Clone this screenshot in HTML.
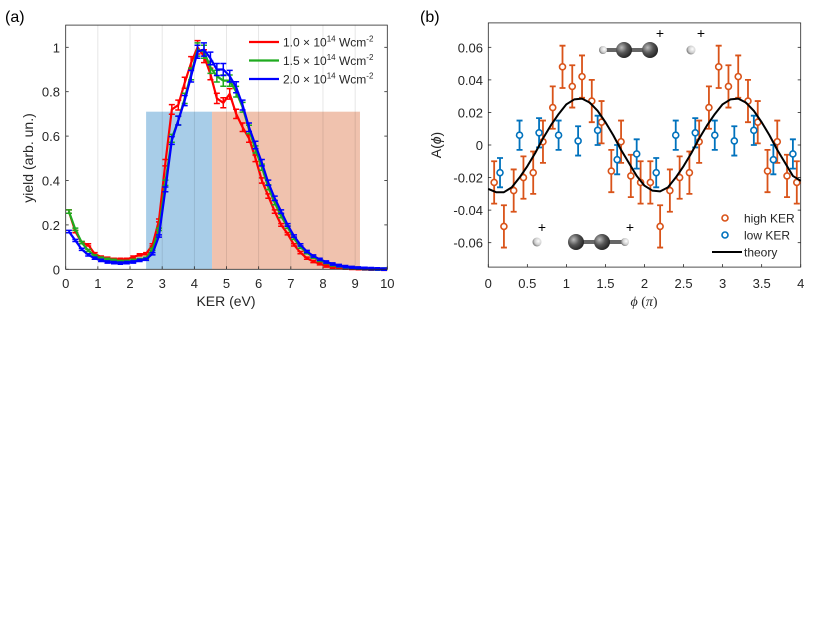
<!DOCTYPE html>
<html><head><meta charset="utf-8"><style>
body{margin:0;background:#fff;}
svg{display:block;font-family:"Liberation Sans",sans-serif;}
</style></head><body>
<svg id="fig" width="830" height="623" viewBox="0 0 830 623">
<defs>
<radialGradient id="gC" cx="35%" cy="35%" r="70%"><stop offset="0" stop-color="#bbb"/><stop offset="0.5" stop-color="#555"/><stop offset="1" stop-color="#222"/></radialGradient>
<radialGradient id="gH" cx="65%" cy="40%" r="70%"><stop offset="0" stop-color="#fff"/><stop offset="0.6" stop-color="#ccc"/><stop offset="1" stop-color="#666"/></radialGradient>
</defs>
<g id="pa"></g>
<g id="pb"></g>
</svg>
<script>
const kerX=[0.1,0.3,0.5,0.7,0.9,1.1,1.3,1.5,1.7,1.9,2.1,2.3,2.5,2.7,2.9,3.1,3.3,3.5,3.7,3.9,4.1,4.3,4.5,4.7,4.9,5.1,5.3,5.5,5.7,5.9,6.1,6.3,6.5,6.7,6.9,7.1,7.3,7.5,7.7,7.9,8.1,8.3,8.5,8.7,8.9,9.1,9.3,9.5,9.7,9.9];
const yieldRed=[0.26,0.17,0.12,0.11,0.07,0.055,0.05,0.045,0.045,0.045,0.055,0.065,0.07,0.11,0.22,0.48,0.72,0.74,0.84,0.93,1.0,0.96,0.88,0.77,0.75,0.79,0.7,0.64,0.59,0.5,0.4,0.33,0.26,0.2,0.16,0.11,0.075,0.05,0.035,0.025,0.015,0.01,0.008,0.006,0.004,0.003,0.002,0.001,0.001,0];
const yieldGreen=[0.26,0.18,0.12,0.085,0.06,0.05,0.045,0.04,0.035,0.035,0.04,0.045,0.05,0.09,0.18,0.39,0.59,0.67,0.77,0.88,0.99,0.98,0.91,0.87,0.85,0.85,0.8,0.73,0.63,0.54,0.46,0.37,0.3,0.24,0.19,0.14,0.1,0.075,0.055,0.04,0.03,0.02,0.015,0.01,0.007,0.005,0.003,0.002,0.001,0.001];
const yieldBlue=[0.17,0.13,0.09,0.065,0.05,0.04,0.033,0.03,0.028,0.03,0.033,0.04,0.045,0.07,0.15,0.36,0.58,0.67,0.76,0.87,0.98,0.99,0.95,0.9,0.9,0.87,0.82,0.74,0.64,0.56,0.48,0.39,0.32,0.26,0.2,0.15,0.11,0.08,0.06,0.045,0.033,0.024,0.017,0.012,0.008,0.006,0.004,0.003,0.002,0.001];
const aXTicks=[0,1,2,3,4,5,6,7,8,9,10];
const aYTicks=[0,0.2,0.4,0.6,0.8,1];
const aYLabels=["0","0.2","0.4","0.6","0.8","1"];
const legendA=["1.0","1.5","2.0"];
const lowRegion=[2.5,4.55,0.71];
const highRegion=[4.55,9.15,0.71];

const highX=[0.075,0.2,0.325,0.45,0.575,0.7,0.825,0.95,1.075,1.2,1.325,1.45,1.575,1.7,1.825,1.95,2.075,2.2,2.325,2.45,2.575,2.7,2.825,2.95,3.075,3.2,3.325,3.45,3.575,3.7,3.825,3.95];
const highY=[-0.023,-0.05,-0.028,-0.02,-0.017,0.002,0.023,0.048,0.036,0.042,0.027,0.014,-0.016,0.002,-0.019,-0.023,-0.023,-0.05,-0.028,-0.02,-0.017,0.002,0.023,0.048,0.036,0.042,0.027,0.014,-0.016,0.002,-0.019,-0.023];
const highErr=0.013;
const lowX=[0.15,0.4,0.65,0.9,1.15,1.4,1.65,1.9,2.15,2.4,2.65,2.9,3.15,3.4,3.65,3.9];
const lowY=[-0.017,0.006,0.0075,0.006,0.0025,0.009,-0.009,-0.0055,-0.017,0.006,0.0075,0.006,0.0025,0.009,-0.009,-0.0055];
const lowErr=0.009;
const theoryX=[0,0.1,0.2,0.3,0.4,0.5,0.6,0.7,0.8,0.9,1.0,1.1,1.2,1.3,1.4,1.5,1.6,1.7,1.8,1.9,2.0,2.1,2.2,2.3,2.4,2.5,2.6,2.7,2.8,2.9,3.0,3.1,3.2,3.3,3.4,3.5,3.6,3.7,3.8,3.9,4.0];
const theoryY=[-0.027,-0.029,-0.029,-0.026,-0.02,-0.013,-0.005,0.004,0.012,0.019,0.025,0.028,0.0285,0.026,0.021,0.014,0.006,-0.003,-0.011,-0.019,-0.025,-0.028,-0.0285,-0.026,-0.02,-0.013,-0.005,0.004,0.012,0.019,0.025,0.028,0.0285,0.026,0.021,0.014,0.006,-0.003,-0.011,-0.019,-0.022];
const bXTicks=[0,0.5,1,1.5,2,2.5,3,3.5,4];
const bYTicks=[-0.06,-0.04,-0.02,0,0.02,0.04,0.06];
const bYLabels=["-0.06","-0.04","-0.02","0","0.02","0.04","0.06"];

const NS="http://www.w3.org/2000/svg";
function mk(p,t,a,txt){const e=document.createElementNS(NS,t);for(const k in a)e.setAttribute(k,a[k]);if(txt!==undefined)e.textContent=txt;p.appendChild(e);return e;}

// Panel A
const pa=document.getElementById('pa');
const ax=v=>65.7+v*(387.3-65.7)/10, ay=v=>269.3-v*222;
let t;
t=mk(pa,'text',{x:5,y:22,'font-size':16},'(a)');


let r=mk(pa,'rect',{x:ax(lowRegion[0]),y:ay(lowRegion[2]),width:ax(lowRegion[1])-ax(lowRegion[0]),height:ay(0)-ay(lowRegion[2]),fill:'#a8cde8'});


r=mk(pa,'rect',{x:ax(highRegion[0]),y:ay(highRegion[2]),width:ax(highRegion[1])-ax(highRegion[0]),height:ay(0)-ay(highRegion[2]),fill:'#f0c2ae'});


aXTicks.forEach((v,i)=>{
 if(v>0&&v<10){const g=mk(pa,'line',{x1:ax(v),x2:ax(v),y1:ay(1.1),y2:ay(0),stroke:'#000','stroke-opacity':0.12,'stroke-width':0.8});
 
 }
 const l=mk(pa,'text',{x:ax(v),y:288,'font-size':13,'text-anchor':'middle',fill:'#262626'},String(v));
 
 
 mk(pa,'line',{x1:ax(v),x2:ax(v),y1:ay(0),y2:ay(0)-3,stroke:'#262626','stroke-width':0.8});
});
aYTicks.forEach((v,i)=>{
 const l=mk(pa,'text',{x:60,y:ay(v)+5,'font-size':13,'text-anchor':'end',fill:'#262626'},aYLabels[i]);
 
 
 mk(pa,'line',{x1:ax(0),x2:ax(0)+3,y1:ay(v),y2:ay(v),stroke:'#262626','stroke-width':0.8});
 mk(pa,'line',{x1:ax(10),x2:ax(10)-3,y1:ay(v),y2:ay(v),stroke:'#262626','stroke-width':0.8});
});
function series(vals,col,name){
 const g=mk(pa,'g',{});
 
 
 mk(g,'polyline',{points:kerX.map((x,i)=>ax(x)+','+ay(vals[i])).join(' '),fill:'none',stroke:col,'stroke-width':2.2});
 kerX.forEach((x,i)=>{const e=Math.max(0.005,vals[i]*0.03);
  mk(g,'path',{d:`M${ax(x)},${ay(vals[i]-e)}V${ay(vals[i]+e)}M${ax(x)-3},${ay(vals[i]-e)}h6M${ax(x)-3},${ay(vals[i]+e)}h6`,stroke:col,'stroke-width':1.5,fill:'none'});});
}
series(yieldRed,'#ff0000','series-1e14');
series(yieldGreen,'#1faa1f','series-1.5e14');
series(yieldBlue,'#0000ff','series-2e14');
mk(pa,'rect',{x:ax(0),y:ay(1.1),width:ax(10)-ax(0),height:ay(0)-ay(1.1),fill:'none',stroke:'#262626','stroke-width':0.8});
['#ff0000','#1faa1f','#0000ff'].forEach((c,i)=>{
 const g=mk(pa,'g',{});
 
 
 const y=42+i*18.5;
 mk(g,'line',{x1:249,x2:279,y1:y,y2:y,stroke:c,'stroke-width':2.2});
 const tt=mk(g,'text',{x:283,y:y+4.5,'font-size':12,fill:'#262626'});
 tt.innerHTML=legendA[i]+' × 10<tspan font-size="8" dy="-5">14</tspan><tspan dy="5"> Wcm</tspan><tspan font-size="8" dy="-5">-2</tspan>';
});
t=mk(pa,'text',{x:226,y:306,'font-size':14,'text-anchor':'middle',fill:'#262626'},'KER (eV)');


t=mk(pa,'text',{x:0,y:0,'font-size':14,'text-anchor':'middle',fill:'#262626',transform:'translate(33,158) rotate(-90)'},'yield (arb. un.)');



// Panel B
const pb=document.getElementById('pb');
const bx=v=>488.3+v*(800.7-488.3)/4, by=v=>145-v*1628;
t=mk(pb,'text',{x:420,y:22,'font-size':16},'(b)');


bXTicks.forEach(v=>{
 const l=mk(pb,'text',{x:bx(v),y:288,'font-size':13,'text-anchor':'middle',fill:'#262626'},String(v));
 
 
 mk(pb,'line',{x1:bx(v),x2:bx(v),y1:by(-0.075),y2:by(-0.075)-3,stroke:'#262626','stroke-width':0.8});
});
bYTicks.forEach((v,i)=>{
 const l=mk(pb,'text',{x:483,y:by(v)+5,'font-size':13,'text-anchor':'end',fill:'#262626'},bYLabels[i]);
 
 
 mk(pb,'line',{x1:bx(0),x2:bx(0)+3,y1:by(v),y2:by(v),stroke:'#262626','stroke-width':0.8});
 mk(pb,'line',{x1:bx(4),x2:bx(4)-3,y1:by(v),y2:by(v),stroke:'#262626','stroke-width':0.8});
});
mk(pb,'rect',{x:bx(0),y:by(0.075),width:bx(4)-bx(0),height:by(-0.075)-by(0.075),fill:'none',stroke:'#262626','stroke-width':0.8});
// molecules
function mol(g,items){items.forEach(m=>mk(g,'circle',{cx:m[0],cy:m[1],r:m[2],fill:m[2]>5?'url(#gC)':'url(#gH)'}));}
let mg=mk(pb,'g',{});


mk(mg,'rect',{x:604,y:48,width:46,height:4,fill:'#666'});
mol(mg,[[603,50,4],[624,50,8],[650,50,8],[691,50,4.5]]);
mk(mg,'text',{x:660,y:38,'font-size':14,'text-anchor':'middle'},'+');
mk(mg,'text',{x:701,y:38,'font-size':14,'text-anchor':'middle'},'+');
mg=mk(pb,'g',{});


mk(mg,'rect',{x:576,y:240,width:48,height:4,fill:'#666'});
mol(mg,[[537,242,4.5],[576,242,8],[602,242,8],[625,242,4]]);
mk(mg,'text',{x:542,y:232,'font-size':14,'text-anchor':'middle'},'+');
mk(mg,'text',{x:630,y:232,'font-size':14,'text-anchor':'middle'},'+');
function pts(X,Y,err,col,name){
 const g=mk(pb,'g',{});
 
 
 X.forEach((x,i)=>{const y=Y[i];
  mk(g,'path',{d:`M${bx(x)},${by(y-err)}V${by(y+err)}M${bx(x)-3},${by(y-err)}h6M${bx(x)-3},${by(y+err)}h6`,stroke:col,'stroke-width':1.8,fill:'none'});
  mk(g,'circle',{cx:bx(x),cy:by(y),r:3,fill:'#fff',stroke:col,'stroke-width':1.6});});
}
pts(highX,highY,highErr,'#d95319','high-ker-series');
pts(lowX,lowY,lowErr,'#0072bd','low-ker-series');
const th=mk(pb,'polyline',{points:theoryX.map((x,i)=>bx(x)+','+by(theoryY[i])).join(' '),fill:'none',stroke:'#000','stroke-width':2,'stroke-linejoin':'round'});


[['#d95319','high KER',218],['#0072bd','low KER',235]].forEach(e=>{
 const g=mk(pb,'g',{});
 
 
 mk(g,'circle',{cx:725,cy:e[2],r:3,fill:'#fff',stroke:e[0],'stroke-width':1.6});
 mk(g,'text',{x:744,y:e[2]+4.5,'font-size':12,fill:'#262626'},e[1]);
});
let lg=mk(pb,'g',{});


mk(lg,'line',{x1:712,x2:742,y1:252,y2:252,stroke:'#000','stroke-width':2});
mk(lg,'text',{x:744,y:256.5,'font-size':12,fill:'#262626'},'theory');
t=mk(pb,'text',{x:644,y:306,'font-size':14,'text-anchor':'middle',fill:'#262626','font-family':'Liberation Serif'});
t.innerHTML='<tspan font-style="italic">ϕ</tspan> (<tspan font-style="italic">π</tspan>)';


t=mk(pb,'text',{x:0,y:0,'font-size':14,'text-anchor':'middle',fill:'#262626',transform:'translate(441,145) rotate(-90)'});
t.innerHTML='A(<tspan font-style="italic">ϕ</tspan>)';


</script>
</body></html>
